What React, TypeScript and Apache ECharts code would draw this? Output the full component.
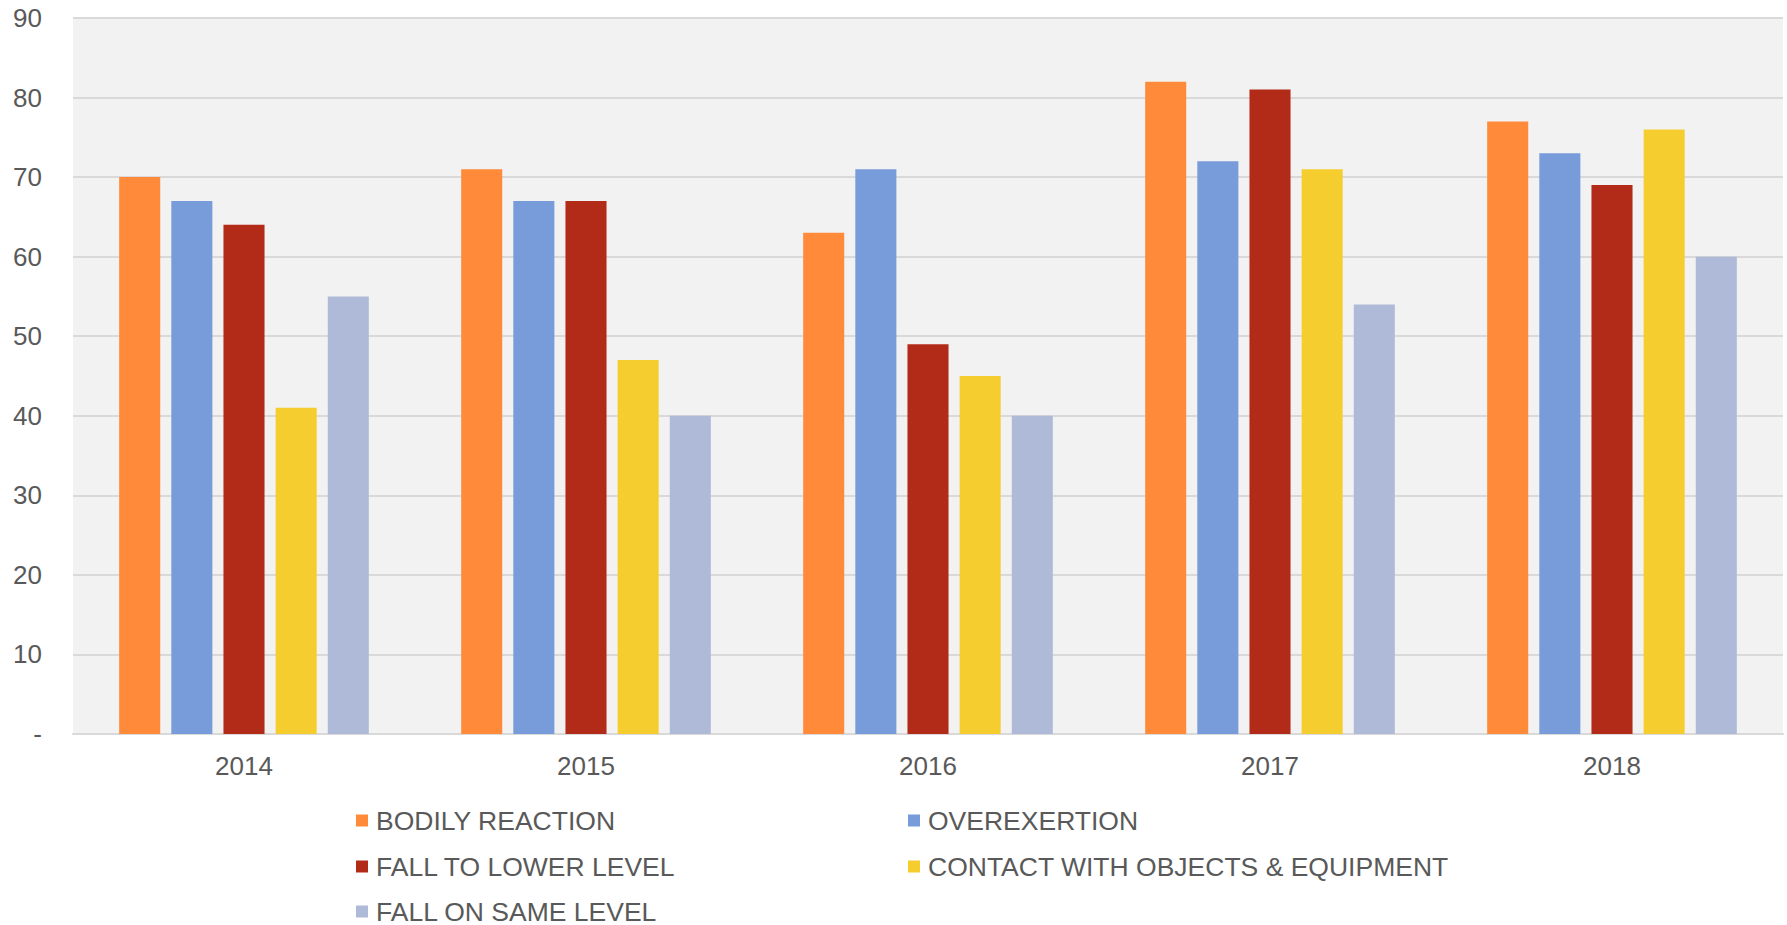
import React, { useEffect, useRef } from "react";
import * as echarts from "echarts";

const years = ["2014", "2015", "2016", "2017", "2018"];
const seriesNames = [
  "BODILY REACTION",
  "OVEREXERTION",
  "FALL TO LOWER LEVEL",
  "CONTACT WITH OBJECTS & EQUIPMENT",
  "FALL ON SAME LEVEL",
];
const bodilyReaction = [70, 71, 63, 82, 77];
const overexertion = [67, 67, 71, 72, 73];
const fallToLower = [64, 67, 49, 81, 69];
const contactObjects = [41, 47, 45, 71, 76];
const fallSameLevel = [55, 40, 40, 54, 60];
const colors = ["#FF8A3A", "#789BD9", "#B22B18", "#F5CD2F", "#AEBAD7"];
const yTicks = { min: 0, max: 90, interval: 10 };

export default function App() {
  const ref = useRef<HTMLDivElement>(null);
  useEffect(() => {
    document.body.style.margin = "0";
    const chart = echarts.init(ref.current!, null, { renderer: "svg" });
    const values = [bodilyReaction, overexertion, fallToLower, contactObjects, fallSameLevel];
    const textColor = "#595959";
    const font = "Liberation Sans, Arial, sans-serif";
    const legendBase = {
      orient: "horizontal" as const,
      icon: "rect",
      itemWidth: 12,
      itemHeight: 12,
      padding: 0,
      selectedMode: false,
      textStyle: {
        color: textColor,
        fontSize: 26.5,
        fontFamily: font,
        lineHeight: 26,
        padding: [0, 0, 0, 3],
      },
    };
    // legend slot positions: [left, top] per series
    const slots = [
      [356, 807],
      [908, 807],
      [356, 853],
      [908, 853],
      [356, 898],
    ];
    chart.setOption({
      animation: false,
      color: colors,
      grid: {
        left: 73,
        right: 4,
        top: 18,
        bottom: 191,
        show: true,
        backgroundColor: "#F2F2F2",
        borderWidth: 0,
      },
      legend: seriesNames.map((n, i) => ({
        ...legendBase,
        left: slots[i][0],
        top: slots[i][1],
        data: [n],
      })),
      xAxis: {
        type: "category",
        data: years,
        axisLine: { lineStyle: { color: "#D9D9D9", width: 2 } },
        axisTick: { show: false },
        axisLabel: { color: textColor, fontSize: 26, fontFamily: font, margin: 19 },
      },
      yAxis: {
        type: "value",
        min: yTicks.min,
        max: yTicks.max,
        interval: yTicks.interval,
        axisLine: { show: false },
        axisTick: { show: false },
        splitLine: { lineStyle: { color: "#D9D9D9", width: 2 } },
        axisLabel: {
          color: textColor,
          fontSize: 26,
          fontFamily: font,
          margin: 31,
          formatter: (v: number) => (v === 0 ? "-" : String(v)),
        },
      },
      series: seriesNames.map((name, i) => ({
        name,
        type: "bar",
        data: values[i],
        barGap: "27%",
        barCategoryGap: "27%",
        itemStyle: { color: colors[i] },
      })),
    });
    return () => chart.dispose();
  }, []);
  return <div ref={ref} style={{ width: 1787, height: 925 }} />;
}
